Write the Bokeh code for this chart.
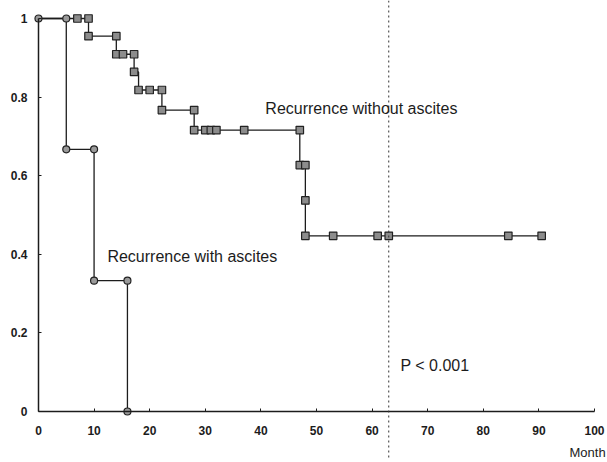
from bokeh.plotting import figure
from bokeh.models import Range1d, Span, Label, FixedTicker
from bokeh.embed import file_html
from bokeh.resources import INLINE

# Kaplan-Meier: recurrence with ascites
with_t = [0, 5, 10, 16]
with_s = [1.0, 0.667, 0.333, 0.0]
with_mark_t = [0, 5, 5, 10, 10, 16, 16]
with_mark_s = [1.0, 1.0, 0.667, 0.667, 0.333, 0.333, 0.0]

# Kaplan-Meier: recurrence without ascites
wo_t = [0, 9, 14, 17.2, 18, 22.2, 28, 47, 48, 48, 90.5]
wo_s = [1.0, 0.955, 0.909, 0.864, 0.818, 0.767, 0.716, 0.627, 0.537, 0.447, 0.447]
wo_mark_t = [7, 9, 9, 14, 14, 15.2, 17.2, 17.2, 18, 20, 22.2, 22.2, 28, 28, 30, 31, 32,
             37, 47, 47, 48, 48, 48, 53, 61, 63, 84.5, 90.5]
wo_mark_s = [1.0, 1.0, 0.955, 0.955, 0.909, 0.909, 0.909, 0.864, 0.818, 0.818, 0.818,
             0.767, 0.767, 0.716, 0.716, 0.716, 0.716, 0.716, 0.716, 0.627, 0.627,
             0.537, 0.447, 0.447, 0.447, 0.447, 0.447, 0.447]

x_ticks = [0, 10, 20, 30, 40, 50, 60, 70, 80, 90, 100]
y_ticks = [0, 0.2, 0.4, 0.6, 0.8, 1.0]
y_tick_labels = {0: "0", 0.2: "0.2", 0.4: "0.4", 0.6: "0.6", 0.8: "0.8", 1.0: "1"}
p_value_month = 63

W, H = 606, 460
p = figure(width=W, height=H, output_backend="svg", toolbar_location=None,
           x_range=Range1d(-6.83, 102.16), y_range=Range1d(-0.1247, 1.0458),
           min_border=0, min_border_left=0, min_border_right=0,
           min_border_top=0, min_border_bottom=0)
p.outline_line_color = None
p.grid.visible = False
p.background_fill_color = "white"

ink = "#1c1c1c"
for ax in (p.xaxis[0], p.yaxis[0]):
    ax.fixed_location = 0
    ax.axis_line_color = ink
    ax.axis_line_width = 1.5
    ax.major_tick_line_color = ink
    ax.major_tick_in = 3
    ax.major_tick_out = 0
    ax.minor_tick_line_color = None
    ax.major_label_text_font = "Liberation Sans"
    ax.major_label_text_font_size = "12px"
    ax.major_label_text_font_style = "bold"
    ax.major_label_text_color = ink

p.xaxis[0].bounds = (0, 100)
p.xaxis[0].ticker = FixedTicker(ticks=x_ticks)
p.xaxis[0].major_label_standoff = 15
p.yaxis[0].bounds = (0, 1)
p.yaxis[0].ticker = FixedTicker(ticks=y_ticks)
p.yaxis[0].major_label_overrides = y_tick_labels
p.yaxis[0].major_label_standoff = 11

p.add_layout(Span(location=p_value_month, dimension="height", line_color="#333333",
                  line_width=1, line_dash="2 3"))

p.step(with_t, with_s, mode="after", line_color=ink, line_width=1.3)
p.step(wo_t, wo_s, mode="after", line_color=ink, line_width=1.3)

p.scatter(wo_mark_t, wo_mark_s, marker="square", size=7.5, fill_color="#8c8c8c",
          line_color="#222222", line_width=1.2)
p.scatter(with_mark_t, with_mark_s, marker="circle", size=7, fill_color="#9a9a9a",
          line_color="#222222", line_width=1.2)

def lab(x, y, text, size="16px", align="left"):
    p.add_layout(Label(x=x, y=y, text=text, text_font="Liberation Sans",
                       text_font_size=size, text_color=ink, text_align=align,
                       text_baseline="middle"))

lab(40.8, 0.77, "Recurrence without ascites", size="16px")
lab(12.4, 0.395, "Recurrence with ascites", size="16px")
lab(65.1, 0.117, "P < 0.001", size="16px")
lab(102.0, -0.104, "Month", size="13px", align="right")

open("out.html", "w").write(file_html(p, INLINE))
